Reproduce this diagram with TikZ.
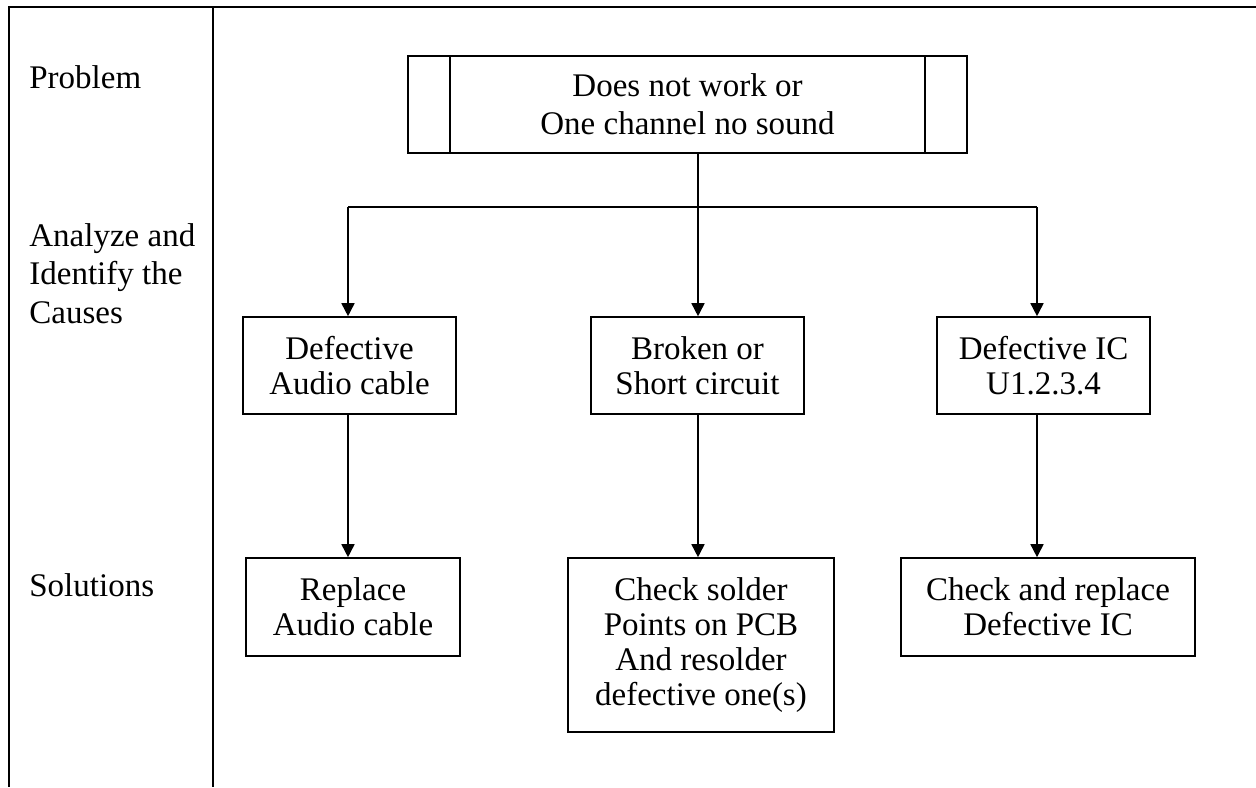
\documentclass[tikz,border=0pt]{standalone}
\usepackage{fontspec}
\setmainfont{Liberation Serif}
\usetikzlibrary{arrows.meta}

\tikzset{
  lbl/.style={anchor=base west, inner sep=0pt, align=left, font=\fontsize{16.5}{19.25}\selectfont},
  box/.style={draw, line width=0.8pt, align=center, inner sep=0pt, font=\fontsize{16.5}{17.4}\selectfont},
  link/.style={line width=0.8pt, -{Triangle[length=6.5pt,width=6.5pt]}}
}

\begin{document}
\begin{tikzpicture}[x=0.5pt,y=-0.5pt]
	\useasboundingbox (0,0) rectangle (1256,787);
	
	% Draw frame
	\draw[line width=0.9pt] (1256,7) -- (9,7) -- (9,787);
	\draw[line width=0.9pt] (213,7) -- (213,787);
	
	% Add row labels
	\node[lbl] (lprob) at (29,88) {Problem};
	\node[lbl] (lcause) at (29,323) {Analyze and\\Identify the\\Causes};
	\node[lbl] (lsol) at (29,596) {Solutions};
	
	% Draw problem box
	\node[box, minimum width=279.5pt, minimum height=48.5pt, font=\fontsize{16.5}{19}\selectfont] (prob) at (687.5,104.5) {Does not work or\\One channel no sound};
	\draw[line width=0.8pt] ([xshift=21.5pt]prob.north west) -- ([xshift=21.5pt]prob.south west);
	\draw[line width=0.8pt] ([xshift=-21.5pt]prob.north east) -- ([xshift=-21.5pt]prob.south east);
	
	% Draw cause boxes
	\node[box, minimum width=106.5pt, minimum height=48.5pt] (c1) at (349.5,365.5) {Defective\\Audio cable};
	\node[box, minimum width=106.5pt, minimum height=48.5pt] (c2) at (697.5,365.5) {Broken or\\Short circuit};
	\node[box, minimum width=106.5pt, minimum height=48.5pt] (c3) at (1043.5,365.5) {Defective IC\\U1.2.3.4};
	
	% Draw solution boxes
	\node[box, minimum width=107pt, minimum height=49pt] (s1) at (353,607) {Replace\\Audio cable};
	\node[box, minimum width=133pt, minimum height=87pt] (s2) at (701,645) {Check solder\\Points on PCB\\And resolder\\defective one(s)};
	\node[box, minimum width=147pt, minimum height=49pt] (s3) at (1048,607) {Check and replace\\Defective IC};
	
	% Define branch points
	\coordinate (b1) at (348,207);
	\coordinate (b2) at (698,207);
	\coordinate (b3) at (1037,207);
	
	% Draw connectors
	\draw[line width=0.8pt] (prob.south -| b2) -- (b2);
	\draw[line width=0.8pt] (b1) -- (b3);
	\foreach \i in {1,2,3} {
		\draw[link] (b\i) -- (b\i |- c\i.north);
		\draw[link] (b\i |- c\i.south) -- (b\i |- s\i.north);
	}
\end{tikzpicture}
\end{document}
